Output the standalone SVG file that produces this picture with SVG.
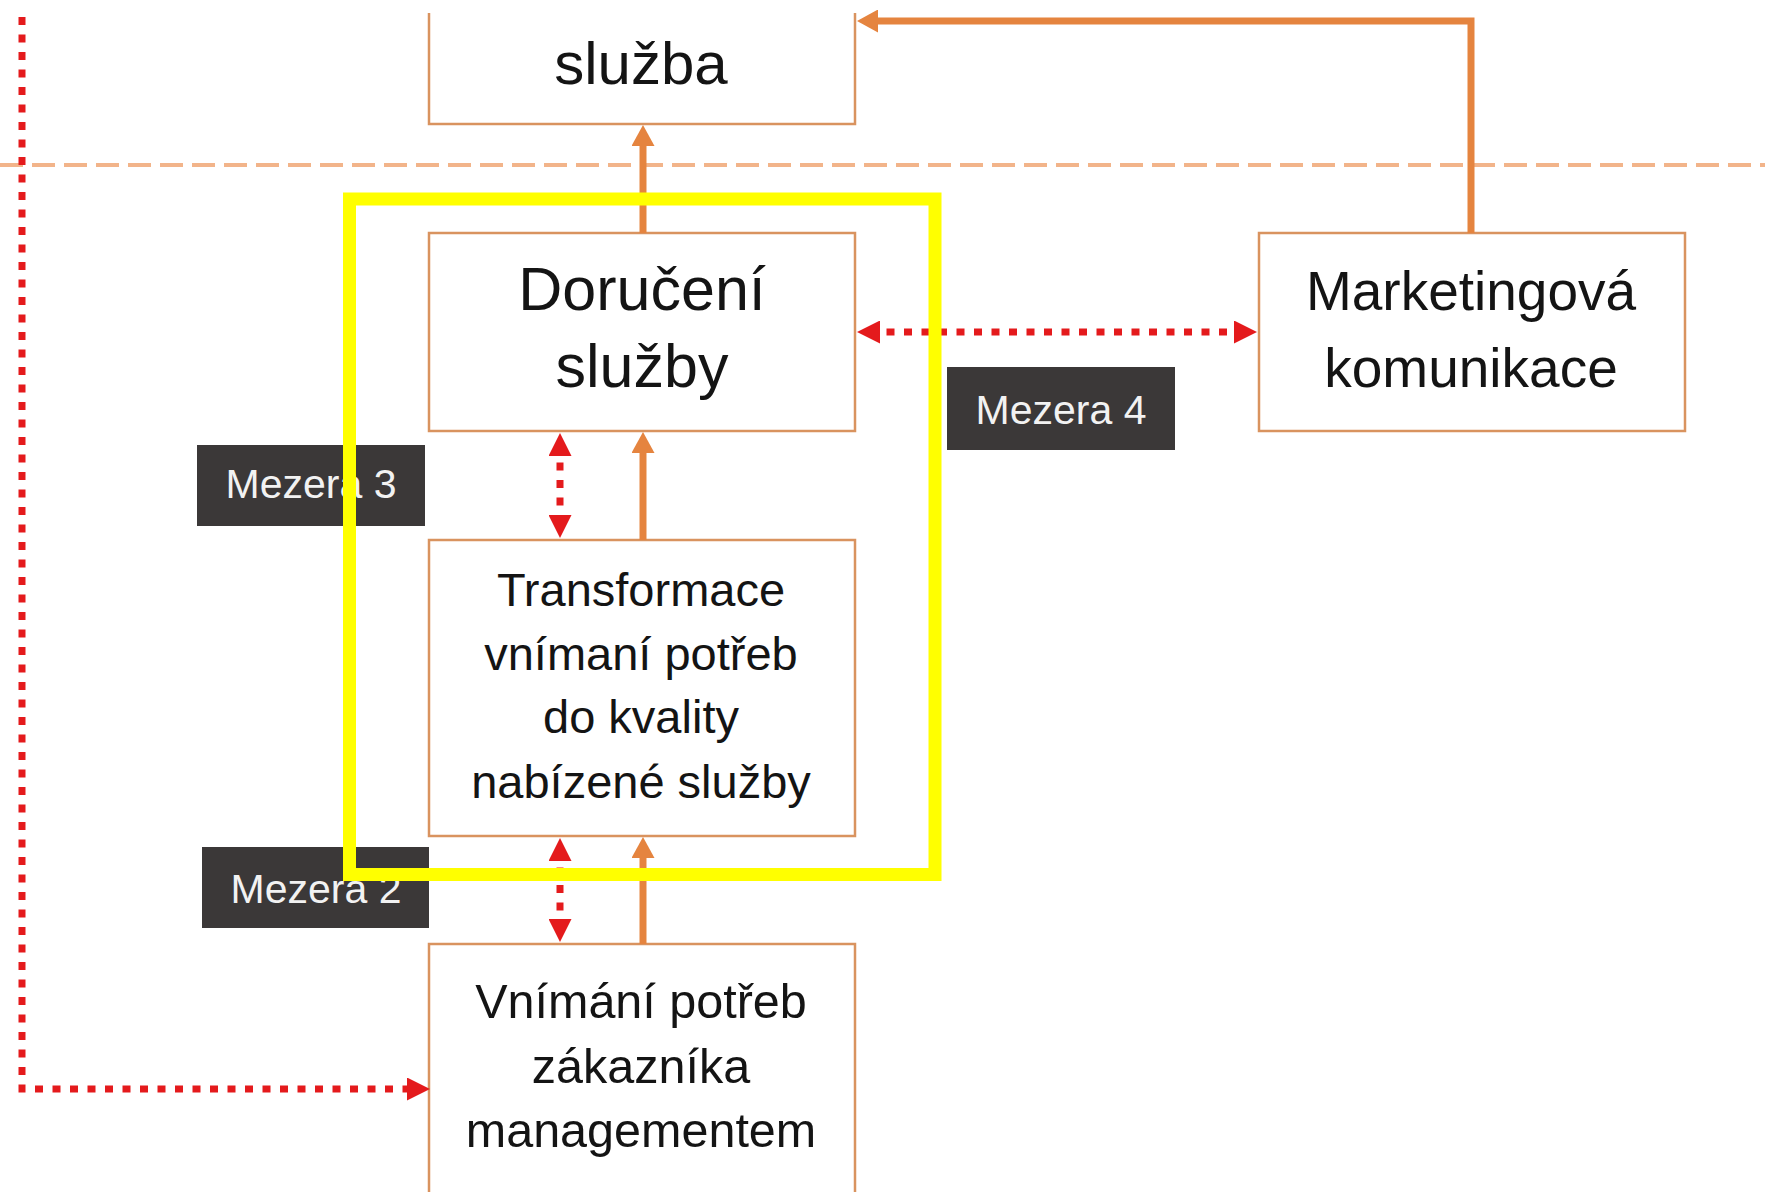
<svg xmlns="http://www.w3.org/2000/svg" width="1765" height="1192" viewBox="0 0 1765 1192">
  <style>
    .box { fill: #ffffff; stroke: #D9935F; stroke-width: 2.5; }
    .txt { font-family: "Liberation Sans", Arial, sans-serif; fill: #141414; text-anchor: middle; }
    .gap rect { fill: #3B3838; }
    .gap text { font-family: "Liberation Sans", Arial, sans-serif; font-size: 41px; fill: #F2F2F2; text-anchor: middle; }
    .flow { fill: none; stroke: #E5843F; stroke-width: 7; marker-end: url(#arrowOrange); }
    .gapline { fill: none; stroke: #E41A1C; stroke-width: 7; stroke-dasharray: 8 9.5; }
    .both { marker-start: url(#arrowRed); marker-end: url(#arrowRed); }
    .one { marker-end: url(#arrowRed); }
  </style>
  <defs>
    <marker id="arrowOrange" markerUnits="userSpaceOnUse" viewBox="0 0 21 23" refX="10" refY="11.5" markerWidth="21" markerHeight="23" orient="auto">
      <path d="M0,0 L21,11.5 L0,23 z" fill="#E5843F"/>
    </marker>
    <marker id="arrowRed" markerUnits="userSpaceOnUse" viewBox="0 0 23 23" refX="11" refY="11.5" markerWidth="23" markerHeight="23" orient="auto-start-reverse">
      <path d="M0,0 L23,11.5 L0,23 z" fill="#E41A1C"/>
    </marker>
  </defs>

  <rect width="1765" height="1192" fill="#ffffff"/>

  <!-- boundary between customer and provider -->
  <line x1="0" y1="165" x2="1765" y2="165" stroke="#F2B48A" stroke-width="4" stroke-dasharray="23 9"/>

  <!-- nodes -->
  <g id="sluzba">
    <path class="box" d="M429,13 V124 H855 V13"/>
    <text class="txt" x="641" y="84" font-size="60">služba</text>
  </g>

  <g id="doruceni">
    <rect class="box" x="429" y="233" width="426" height="198"/>
    <text class="txt" x="642" y="310" font-size="61">Doručení</text>
    <text class="txt" x="642" y="387" font-size="61">služby</text>
  </g>

  <g id="marketing">
    <rect class="box" x="1259" y="233" width="426" height="198"/>
    <text class="txt" x="1471" y="310" font-size="55">Marketingová</text>
    <text class="txt" x="1471" y="387" font-size="55">komunikace</text>
  </g>

  <g id="transformace">
    <rect class="box" x="429" y="540" width="426" height="296"/>
    <text class="txt" x="641" y="606" font-size="47">Transformace</text>
    <text class="txt" x="641" y="670" font-size="47">vnímaní potřeb</text>
    <text class="txt" x="641" y="733" font-size="47">do kvality</text>
    <text class="txt" x="641" y="798" font-size="47">nabízené služby</text>
  </g>

  <g id="vnimani">
    <rect class="box" x="429" y="944" width="426" height="300"/>
    <text class="txt" x="641" y="1018" font-size="48.5">Vnímání potřeb</text>
    <text class="txt" x="641" y="1083" font-size="48.5">zákazníka</text>
    <text class="txt" x="641" y="1147" font-size="48.5">managementem</text>
  </g>

  <!-- connectors -->
  <g id="connectors">
    <path class="flow" d="M643,233 V136"/>
    <path class="flow" d="M643,540 V443"/>
    <path class="flow" d="M643,944 V848"/>
    <path class="flow" d="M1471,233 V21 H868"/>

    <path class="gapline both" d="M869,332 H1245"/>
    <path class="gapline both" d="M560,445 V526"/>
    <path class="gapline both" d="M560,850 V930"/>
    <path class="gapline one" d="M22,17 V1089 H418"/>
  </g>

  <!-- gap labels -->
  <g id="mezera4" class="gap">
    <rect x="947" y="367" width="228" height="83"/>
    <text x="1061" y="424">Mezera 4</text>
  </g>
  <g id="mezera3" class="gap">
    <rect x="197" y="445" width="228" height="81"/>
    <text x="311" y="498">Mezera 3</text>
  </g>
  <g id="mezera2" class="gap">
    <rect x="202" y="847" width="227" height="81"/>
    <text x="316" y="903">Mezera 2</text>
  </g>

  <!-- highlight frame -->
  <rect id="highlight" x="349.5" y="199" width="585.5" height="675.5" fill="none" stroke="#FFFF00" stroke-width="13"/>
</svg>
